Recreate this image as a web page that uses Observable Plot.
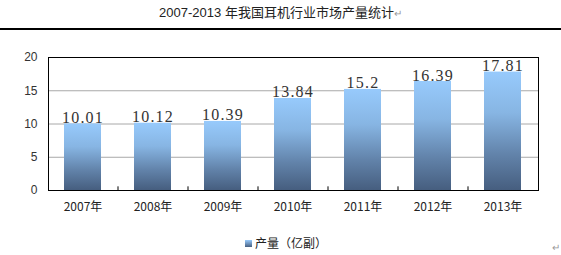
<!DOCTYPE html>
<html>
<head>
<meta charset="utf-8">
<script src="https://cdn.jsdelivr.net/npm/d3@7"></script>
<script src="https://cdn.jsdelivr.net/npm/@observablehq/plot@0.6"></script>
<style>
  html, body { margin: 0; padding: 0; background: #fff; }
  #wrap { position: relative; width: 561px; height: 255px; overflow: hidden; font-family: "Liberation Sans", "Noto Sans CJK SC", sans-serif; }
  #title { position: absolute; left: 0; top: 4px; width: 561px; text-align: center; font-size: 13px; color: #222; line-height: 18px; }
  #title .pm { color: #999; font-size: 10px; }
  #rule { position: absolute; left: 0; top: 28px; width: 561px; height: 2px; background: #000; }
  #chart { position: absolute; left: 0; top: 0; }
  #legend { position: absolute; left: 245px; top: 235px; font-size: 12px; color: #222; line-height: 16px; font-family: "Noto Sans CJK SC", sans-serif; }
  #legend .sw { display: inline-block; width: 7px; height: 7px; margin-right: 3px; vertical-align: 1px; background: linear-gradient(#97CAFC, #475F80); }
  #pm2 { position: absolute; left: 552px; top: 242px; font-size: 10px; color: #999; }
</style>
</head>
<body>
<div id="wrap">
  <div id="title">2007-2013 年我国耳机行业市场产量统计<span class="pm">↵</span></div>
  <div id="rule"></div>
  <div id="chart"></div>
  <div id="legend"><span class="sw"></span>产量（亿副）</div>
  <div id="pm2">↵</div>
</div>
<script>
const years = ["2007年", "2008年", "2009年", "2010年", "2011年", "2012年", "2013年"];
const output = [10.01, 10.12, 10.39, 13.84, 15.2, 16.39, 17.81];
const yTicks = [0, 5, 10, 15, 20];

const data = years.map((y, i) => ({year: y, value: output[i]}));

const gradientDefs = () => {
  const defs = d3.create("svg:defs");
  const g = defs.append("linearGradient")
    .attr("id", "barGrad").attr("x1", 0).attr("y1", 0).attr("x2", 0).attr("y2", 1);
  g.append("stop").attr("offset", "0%").attr("stop-color", "#97CAFC");
  g.append("stop").attr("offset", "35%").attr("stop-color", "#87B5E3");
  g.append("stop").attr("offset", "70%").attr("stop-color", "#6283AA");
  g.append("stop").attr("offset", "100%").attr("stop-color", "#465E7F");
  return defs.node();
};

const chart = Plot.plot({
  width: 561,
  height: 255,
  marginTop: 57,
  marginBottom: 65,
  marginLeft: 48,
  marginRight: 23,
  style: {fontFamily: "Liberation Sans, Noto Sans CJK SC, sans-serif", fontSize: "12px", color: "#333", background: "transparent"},
  x: {domain: years, paddingInner: 0.47, paddingOuter: 0.235, label: null},
  y: {domain: [0, 20], label: null},
  marks: [
    gradientDefs,
    Plot.gridY(yTicks.slice(1, -1), {stroke: "#A8A8A8", strokeOpacity: 1}),
    Plot.barY(data, {x: "year", y: "value", fill: "url(#barGrad)"}),
    Plot.ruleX(years.slice(0, -1), {x: d => d, dx: 35, y1: 0, y2: 0.55, stroke: "#000"}),
    Plot.frame({stroke: "#000", strokeWidth: 1}),
    Plot.axisY(yTicks, {tickSize: 0, tickPadding: 11, fontSize: 12, fill: "#333", label: null}),
    Plot.axisX({tickSize: 0, tickPadding: 12, fontSize: 12, fill: "#222", label: null, fontFamily: "Noto Sans CJK SC, sans-serif"}),
    Plot.text(data, {x: "year", y: "value", text: d => String(d.value), lineAnchor: "bottom", dy: -1, fontSize: 16, fontFamily: "Liberation Serif, serif", fill: "#333", className: "vlabel"})
  ]
});
d3.select(chart).selectAll("g[aria-label='text'] text").style("letter-spacing", "1.2px");
document.getElementById("chart").appendChild(chart);
</script>
</body>
</html>
